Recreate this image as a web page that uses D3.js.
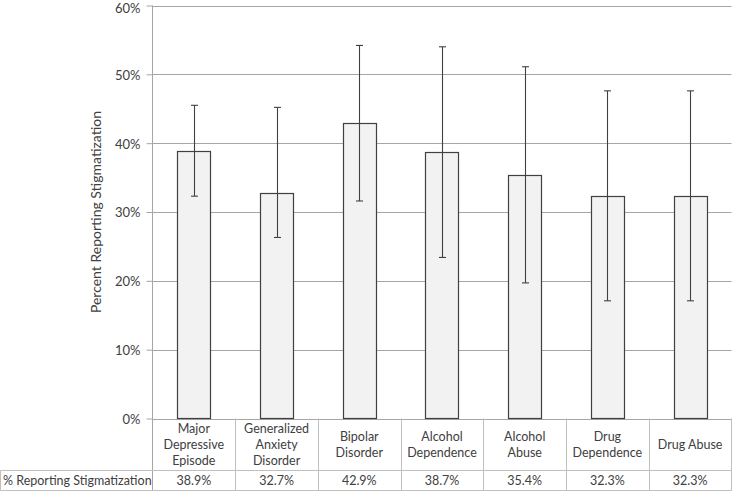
<!DOCTYPE html>
<html><head><meta charset="utf-8">
<script src="https://cdn.jsdelivr.net/npm/d3@7"></script>
<style>body{margin:0;background:#fff}svg{display:block}text{font-family:Lato,"Open Sans",sans-serif;fill:#404040}</style>
</head><body>
<script>
const categories = [["Major","Depressive","Episode"],["Generalized","Anxiety","Disorder"],["Bipolar","Disorder"],["Alcohol","Dependence"],["Alcohol","Abuse"],["Drug","Dependence"],["Drug Abuse"]];
const values = [38.9, 32.7, 42.9, 38.7, 35.4, 32.3, 32.3];
const errLow = [32.3, 26.3, 31.6, 23.4, 19.7, 17.1, 17.1];
const errHigh = [45.5, 45.2, 54.2, 54.0, 51.1, 47.6, 47.6];
const valueLabels = ["38.9%","32.7%","42.9%","38.7%","35.4%","32.3%","32.3%"];
const yTicks = [0,10,20,30,40,50,60];
const rowLabel = "% Reporting Stigmatization";
const yTitle = "Percent Reporting Stigmatization";

const W=732,H=492;
const L=152.5,R=731.5,T=5.5,B=418.5;
const svg=d3.select("body").append("svg").attr("width",W).attr("height",H);
const x=d3.scaleBand().domain(d3.range(categories.length)).range([L,R]);
const y=d3.scaleLinear().domain([0,60]).range([B,T]);

// gridlines
svg.append("g").selectAll("line").data(yTicks).join("line")
 .attr("x1",L).attr("x2",R).attr("y1",d=>Math.round(y(d))+0.5).attr("y2",d=>Math.round(y(d))+0.5)
 .attr("stroke","#a6a6a6").attr("stroke-width",1);

// y axis
const ya=d3.axisLeft(y).tickValues(yTicks).tickFormat(d=>d+"%").tickSize(6).tickPadding(6);
const gy=svg.append("g").attr("transform",`translate(${L},0)`).call(ya);
gy.select(".domain").remove();
gy.selectAll(".tick line").attr("stroke","#a6a6a6");
gy.selectAll(".tick text").style("font-size","13px").attr("fill","#404040")
  .attr("dy",d=>d===60?"0.55em":"0.38em");
svg.append("line").attr("x1",L).attr("x2",L).attr("y1",T).attr("y2",490.5).attr("stroke","#a6a6a6");

// y title
svg.append("text").attr("transform",`translate(96,${(T+B)/2}) rotate(-90)`).attr("text-anchor","middle")
 .attr("dy","0.35em").style("font-size","14px").text(yTitle);

// bars
const bw=33;
svg.append("g").selectAll("rect").data(values).join("rect")
 .attr("x",(d,i)=>Math.round(x(i)+x.bandwidth()/2-bw/2)+0.5)
 .attr("y",d=>Math.round(y(d))+0.5).attr("width",bw)
 .attr("height",d=>B-Math.round(y(d))-0.5)
 .attr("fill","#f2f2f2").attr("stroke","#404040").attr("stroke-width",1.2);

// error bars
const eg=svg.append("g").attr("stroke","#404040").attr("stroke-width",1.1);
values.forEach((v,i)=>{
  const cx=Math.round(x(i)+x.bandwidth()/2)+0.5;
  eg.append("line").attr("x1",cx).attr("x2",cx).attr("y1",y(errLow[i])).attr("y2",y(errHigh[i]));
  [errLow[i],errHigh[i]].forEach(e=>eg.append("line").attr("x1",cx-3.5).attr("x2",cx+3.5).attr("y1",y(e)).attr("y2",y(e)));
});

// data table
const rowTop=B, rowMid=470.5, rowBot=490.5;
const tg=svg.append("g").attr("stroke","#bfbfbf").attr("stroke-width",1);
tg.append("line").attr("x1",0.5).attr("x2",R).attr("y1",rowMid).attr("y2",rowMid);
tg.append("line").attr("x1",0.5).attr("x2",R).attr("y1",rowBot).attr("y2",rowBot);
tg.append("line").attr("x1",0.5).attr("x2",0.5).attr("y1",rowMid).attr("y2",rowBot);
d3.range(categories.length+1).forEach(i=>{
  const xx=i<categories.length?Math.round(x(i))+0.5:R;
  if(i>0) tg.append("line").attr("x1",xx).attr("x2",xx).attr("y1",rowTop).attr("y2",rowBot);
});
categories.forEach((lines,i)=>{
  const cx=x(i)+x.bandwidth()/2;
  const n=lines.length, lh=16.3, cy=444.5;
  lines.forEach((t,j)=>{
    svg.append("text").attr("x",cx).attr("y",cy+(j-(n-1)/2)*lh).attr("dy","0.35em")
     .attr("text-anchor","middle").style("font-size","12.5px").text(t);
  });
  svg.append("text").attr("x",cx).attr("y",480.5).attr("dy","0.35em").attr("text-anchor","middle")
   .style("font-size","12.5px").text(valueLabels[i]);
});
svg.append("text").attr("x",3).attr("y",480.5).attr("dy","0.35em").style("font-size","12.5px").text(rowLabel);
</script>
</body></html>
